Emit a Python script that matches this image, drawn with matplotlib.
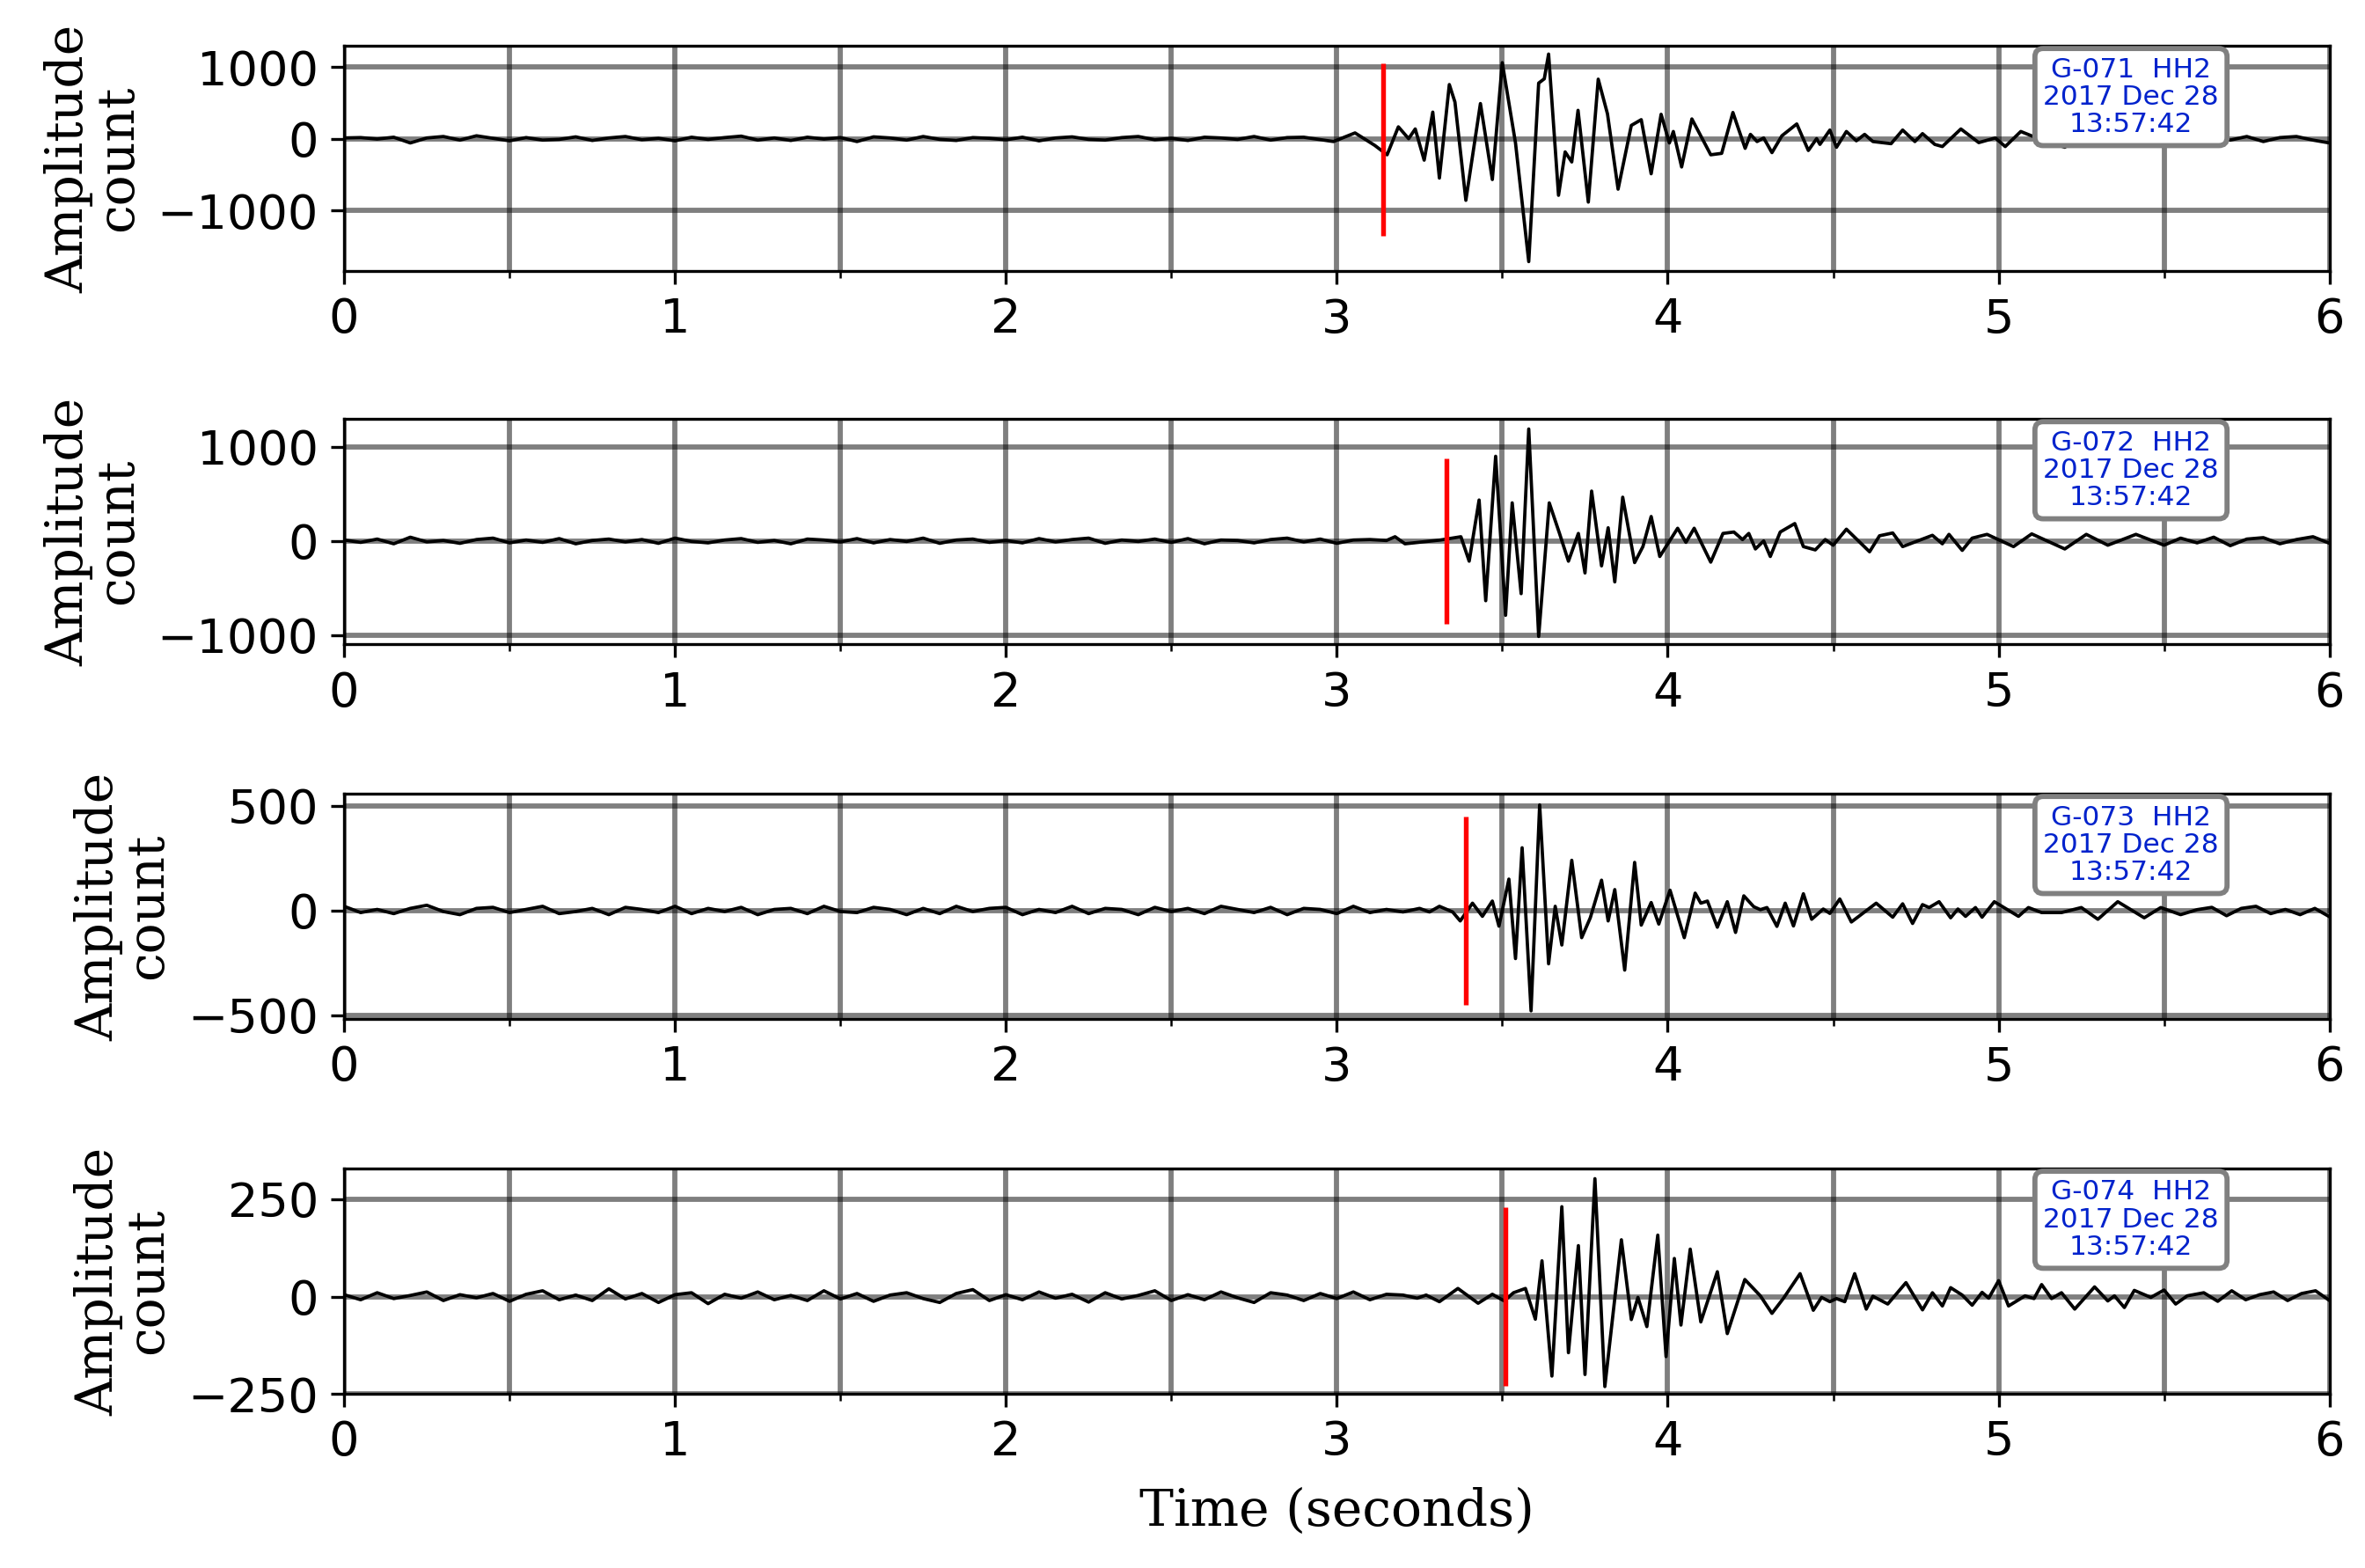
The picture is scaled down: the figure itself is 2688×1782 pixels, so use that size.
import numpy as np
import matplotlib
matplotlib.use("Agg")
import matplotlib.pyplot as plt
from matplotlib.ticker import MultipleLocator

stations = ["G-071", "G-072", "G-073", "G-074"]
channel = "HH2"
date_label = "2017 Dec 28"
time_label = "13:57:42"
picks = [3.14, 3.33, 3.39, 3.51]
pick_half = [(-1350, 1050), (-880, 880), (-450, 450), (-230, 230)]
ylims = [(-1850, 1300), (-1100, 1300), (-520, 560), (-250, 330)]
yticks = [[-1000, 0, 1000], [-1000, 0, 1000], [-500, 0, 500], [-250, 0, 250]]

# pre-event noise (uniform samples 0..end), event extrema (t, amp), tail noise (..6.0)
pre1 = [10,15,-5,20,-60,10,30,-20,40,5,-30,15,-20,-10,25,-25,10,30,-15,5,-30,20,-10,15,35,-20,10,-25,20,-5,
        15,-40,25,10,-20,30,-10,-25,15,5,-15,20,-30,10,25,-10,-20,15,30,-15,5,-25,20,10,-10,30,-20,15,20]
pre1_end = 2.9
ev1_t = [2.99,3.055,3.115,3.152,3.186,3.217,3.237,3.264,3.29,3.31,3.34,3.357,3.39,3.434,3.47,3.50,3.54,3.58,3.61,
         3.627,3.64,3.67,3.69,3.71,3.729,3.76,3.79,3.818,3.85,3.89,3.92,3.95,3.98,4.005,4.017,4.042,4.073,4.13,
         4.163,4.197,4.234,4.25,4.27,4.29,4.315,4.345,4.39,4.425,4.45,4.46,4.49,4.51,4.54,4.57,4.595,4.62,4.675,
         4.71,4.747,4.77,4.807,4.83,4.886,4.94,4.99,5.02,5.067,5.11,5.2,5.27,5.37,5.45,5.5]
ev1_a = [-40,80,-95,-225,165,0,135,-300,370,-550,755,510,-860,490,-570,1060,-60,-1715,775,835,1180,-790,-185,
         -325,395,-885,830,345,-705,185,265,-490,340,-60,100,-395,275,-225,-205,365,-135,60,-40,10,-195,40,205,
         -165,0,-80,120,-120,100,-30,60,-40,-70,120,-40,70,-80,-110,135,-55,10,-110,100,20,-120,120,-100,165,-95]
tail1 = [20,-30,40,-20,30,-40,15,30,-20,-60]

pre2 = [10,-15,20,-30,40,-10,5,-25,15,30,-20,10,-15,25,-30,5,20,-10,15,-25,30,-5,-20,10,25,-15,5,-30,20,10,
        -10,25,-20,15,-5,30,-25,10,20,-15,5,-20,25,-10,15,30,-25,10,-5,20,-15,25,-30,10,5,-20,15,30,-10,20,
        -25,10,15,5]
pre2_end = 3.15
ev2_t = [3.176,3.206,3.313,3.375,3.40,3.43,3.45,3.48,3.51,3.53,3.557,3.58,3.61,3.642,3.673,3.70,3.73,3.75,3.77,
         3.80,3.82,3.84,3.864,3.90,3.925,3.95,3.976,4.03,4.055,4.08,4.13,4.167,4.20,4.226,4.245,4.265,4.29,4.31,
         4.34,4.384,4.41,4.446,4.476,4.50,4.54,4.61,4.64,4.68,4.71,4.8,4.83,4.85,4.89,4.92,4.965,5.045,5.1,5.2,
         5.265,5.33,5.415,5.5]
ev2_a = [45,-30,10,45,-215,435,-635,900,-790,405,-560,1190,-1015,405,80,-215,80,-340,530,-265,140,-435,465,-230,
         -60,260,-165,135,-15,135,-225,80,95,15,80,-85,0,-165,95,185,-60,-95,15,-45,125,-115,55,85,-60,60,-30,70,
         -100,30,70,-60,75,-85,70,-45,70,-45]
tail2 = [30,-20,40,-50,20,35,-30,15,45,-25]

pre3 = [20,-10,5,-15,10,25,-5,-20,10,15,-10,5,20,-15,-5,10,-20,15,5,-10,20,-15,10,-5,15,-20,5,10,-15,20,
        -5,-10,15,5,-20,10,-15,20,-5,10,15,-20,5,-10,20,-15,10,5,-20,15,-5,10,-15,20,5,-10,15,-20,10,5,
        -15,20,-10,5,-7]
pre3_end = 3.2
ev3_t = [3.25,3.28,3.31,3.35,3.373,3.41,3.44,3.47,3.49,3.52,3.54,3.56,3.587,3.613,3.64,3.66,3.68,3.71,3.74,3.766,
         3.80,3.82,3.84,3.87,3.90,3.92,3.95,3.973,4.007,4.05,4.083,4.10,4.12,4.15,4.18,4.205,4.23,4.26,4.28,4.30,
         4.33,4.355,4.38,4.41,4.435,4.47,4.49,4.52,4.555,4.63,4.68,4.71,4.74,4.77,4.79,4.82,4.855,4.877,4.90,4.93,
         4.95,4.987,5.06,5.09,5.13,5.19,5.25,5.30,5.36,5.44,5.49,5.55]
ev3_a = [10,-7,20,-7,-50,35,-28,45,-75,150,-230,300,-480,505,-255,20,-165,240,-130,-35,145,-50,100,-285,230,-70,
         38,-65,97,-130,83,35,45,-80,42,-105,70,18,4,14,-76,35,-74,80,-42,7,-14,55,-55,35,-32,32,-62,28,14,42,-35,
         7,-28,14,-32,42,-28,14,-10,-10,14,-42,42,-35,14,-20]
tail3 = [4,15,-25,10,20,-15,5,-20,10,-30]

pre4 = [5,-8,10,-5,3,12,-10,5,-3,8,-12,6,15,-8,4,-10,20,-6,8,-15,5,10,-18,6,-4,12,-8,3,-10,15,
        -6,8,-12,4,10,-5,-15,8,18,-10,5,-8,12,-4,6,-14,10,-6,3,15,-10,5,-8,12,-3,-15,10,4,-10,8,
        -5,12,-8,6,4]
pre4_end = 3.2
ev4_t = [3.243,3.27,3.31,3.366,3.427,3.47,3.506,3.534,3.57,3.60,3.62,3.65,3.68,3.70,3.73,3.75,3.78,3.81,3.86,3.89,
         3.91,3.937,3.97,3.995,4.02,4.04,4.068,4.10,4.15,4.18,4.233,4.28,4.315,4.35,4.40,4.44,4.465,4.49,4.51,
         4.535,4.565,4.60,4.62,4.665,4.72,4.77,4.80,4.83,4.855,4.89,4.92,4.95,4.97,5.0,5.03,5.08,5.107,5.13,5.16,
         5.19,5.23,5.29,5.33,5.35,5.38,5.41,5.46,5.50,5.535,5.57]
ev4_a = [-4,4,-13,21,-17,6,-11,10,21,-58,92,-204,231,-144,131,-200,303,-231,146,-59,-2,-77,158,-154,98,-73,122,
         -65,64,-95,44,2,-43,-4,59,-35,-2,-13,-5,-13,59,-32,1,-19,36,-34,10,-24,23,4,-22,11,-4,41,-24,2,-5,31,-5,
         10,-32,25,-11,2,-28,16,-2,17,-19,2]
tail4 = [10,-12,15,-8,5,12,-10,8,15,-10]

pres = [(pre1, pre1_end), (pre2, pre2_end), (pre3, pre3_end), (pre4, pre4_end)]
evs = [(ev1_t, ev1_a), (ev2_t, ev2_a), (ev3_t, ev3_a), (ev4_t, ev4_a)]
tails = [tail1, tail2, tail3, tail4]

plt.rcParams['font.family'] = 'DejaVu Sans'
fig = plt.figure(figsize=(8.96, 5.94), dpi=300)
left, width = 0.1455, 0.8395
tops = [0.971, 0.733, 0.494, 0.255]
h = 0.144
for i in range(4):
    ax = fig.add_axes([left, tops[i] - h, width, h])
    pa, pend = pres[i]
    tp = np.linspace(0, pend, len(pa))
    tt = np.linspace(evs[i][0][-1] + 0.05, 6.0, len(tails[i]))
    t = np.concatenate([tp, evs[i][0], tt])
    a = np.concatenate([pa, evs[i][1], tails[i]])
    ax.plot(t, a, color='black', lw=0.9)
    ax.vlines(picks[i], pick_half[i][0], pick_half[i][1], color='red', lw=1.3)
    ax.set_xlim(0, 6)
    ax.set_ylim(*ylims[i])
    ax.set_yticks(yticks[i])
    ax.xaxis.set_major_locator(MultipleLocator(1))
    ax.xaxis.set_minor_locator(MultipleLocator(0.5))
    ax.grid(True, which='both', axis='x', color='black', alpha=0.5, lw=1.4)
    ax.grid(True, which='major', axis='y', color='black', alpha=0.5, lw=1.4)
    ax.set_axisbelow(True)
    ax.tick_params(labelsize=13)
    ax.set_ylabel("Amplitude\ncount", family='serif', fontsize=14, linespacing=1.0, labelpad=4)
    ax.text(0.9, 0.95, f"{stations[i]}  {channel}\n{date_label}\n{time_label}",
            transform=ax.transAxes, ha='center', va='top', color='#0022cc', fontsize=7.5,
            linespacing=1.1,
            bbox=dict(boxstyle='round,pad=0.3', fc='white', ec='gray', lw=1.4), zorder=5)
    if i == 3:
        ax.set_xlabel("Time (seconds)", family='serif', fontsize=14, labelpad=6)
fig.savefig("out.png", dpi=300)
